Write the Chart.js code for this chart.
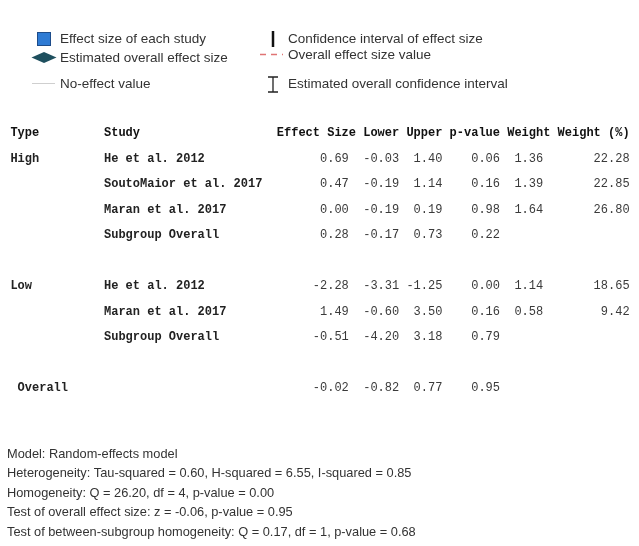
<!DOCTYPE html>
<html>
<head>
<meta charset="utf-8">
<script src="https://cdn.jsdelivr.net/npm/chart.js@4.4.1/dist/chart.umd.min.js"></script>
<style>
  html, body { margin: 0; padding: 0; background: #fff; }
  canvas { display: block; }
</style>
</head>
<body>
<canvas id="forest" width="639" height="546"></canvas>
<script>
// ---- Table contents ----
const headers    = ['Type', 'Study', 'Effect Size', 'Lower', 'Upper', 'p-value', 'Weight', 'Weight (%)'];
const types      = ['High', '', '', '', 'Low', '', '', ' Overall'];
const studies    = ['He et al. 2012', 'SoutoMaior et al. 2017', 'Maran et al. 2017', 'Subgroup Overall',
                    'He et al. 2012', 'Maran et al. 2017', 'Subgroup Overall', ''];
const effectSize = [0.69, 0.47, 0.00, 0.28, -2.28, 1.49, -0.51, -0.02];
const lower      = [-0.03, -0.19, -0.19, -0.17, -3.31, -0.60, -4.20, -0.82];
const upper      = [1.40, 1.14, 0.19, 0.73, -1.25, 3.50, 3.18, 0.77];
const pValue     = [0.06, 0.16, 0.98, 0.22, 0.00, 0.16, 0.79, 0.95];
const weight     = [1.36, 1.39, 1.64, null, 1.14, 0.58, null, null];
const weightPct  = [22.28, 22.85, 26.80, null, 18.65, 9.42, null, null];

const legendLeft  = ['Effect size of each study', 'Estimated overall effect size', 'No-effect value'];
const legendRight = ['Confidence interval of effect size', 'Overall effect size value', 'Estimated overall confidence interval'];

const modelNotes = [
  'Model: Random-effects model',
  'Heterogeneity: Tau-squared = 0.60, H-squared = 6.55, I-squared = 0.85',
  'Homogeneity: Q = 26.20, df = 4, p-value = 0.00',
  'Test of overall effect size: z = -0.06, p-value = 0.95',
  'Test of between-subgroup homogeneity: Q = 0.17, df = 1, p-value = 0.68'
];

// ---- Layout of the table grid ----
// x axis counts monospace character cells, y axis counts table rows.
const CHAR_PX = 7.2, GRID_LEFT_PX = 10.4;
const ROW_PX = 25.5, HEADER_ROW_PX = 133;
const W = 639, H = 546;
const rowSlots = [1, 2, 3, 4, 6, 7, 8, 10];          // table row of each entry (header is row 0)
const headerCols = [0, 13, 37, 49, 55, 61, 69, 76];  // left edge of each header label
const textCols = { type: 0, study: 13 };
const numCols = { es: 47, lo: 54, up: 60, p: 68, w: 74, wp: 86 };  // right edges of number columns

const monoBold = 'bold 12px "Liberation Mono", "DejaVu Sans Mono", monospace';
const monoReg  = '12px "Liberation Mono", "DejaVu Sans Mono", monospace';
const sansFont = '"Liberation Sans", Arial, sans-serif';

function textColumn(col, labels, font, color) {
  return {
    data: labels.map((t, i) => ({ x: col, y: rowSlots[i], text: t })).filter(p => p.text),
    font, textColor: color, align: 'left'
  };
}
function numberColumn(col, values) {
  return {
    data: values.map((v, i) => ({ x: col, y: rowSlots[i], text: v == null ? '' : v.toFixed(2) }))
                .filter(p => p.text),
    font: monoReg, textColor: '#3a3a3a', align: 'right'
  };
}

const datasets = [
  {
    data: headers.map((h, i) => ({ x: headerCols[i], y: 0, text: h })),
    font: monoBold, textColor: '#111', align: 'left'
  },
  textColumn(textCols.type, types, monoBold, '#222'),
  textColumn(textCols.study, studies, monoBold, '#222'),
  numberColumn(numCols.es, effectSize),
  numberColumn(numCols.lo, lower),
  numberColumn(numCols.up, upper),
  numberColumn(numCols.p, pValue),
  numberColumn(numCols.w, weight),
  numberColumn(numCols.wp, weightPct)
].map(d => Object.assign({ pointRadius: 0, pointHoverRadius: 0, showLine: false }, d));

// Writes each table cell at its point position.
const tableText = {
  id: 'tableText',
  afterDatasetsDraw(chart) {
    const ctx = chart.ctx;
    chart.data.datasets.forEach((ds, i) => {
      const meta = chart.getDatasetMeta(i);
      ctx.save();
      ctx.font = ds.font;
      ctx.fillStyle = ds.textColor;
      ctx.textAlign = ds.align;
      ctx.textBaseline = 'middle';
      meta.data.forEach((el, j) => ctx.fillText(ds.data[j].text, el.x, el.y));
      ctx.restore();
    });
  }
};

// Key of symbols at the top and the model summary at the bottom.
const keyAndNotes = {
  id: 'keyAndNotes',
  afterDraw(chart) {
    const ctx = chart.ctx;
    ctx.save();
    ctx.font = '13.5px ' + sansFont;
    ctx.fillStyle = '#333';
    ctx.textAlign = 'left';
    ctx.textBaseline = 'middle';
    const leftY = [39, 58, 84], rightY = [39, 55, 84];
    legendLeft.forEach((t, i) => ctx.fillText(t, 60, leftY[i]));
    legendRight.forEach((t, i) => ctx.fillText(t, 288, rightY[i]));

    // blue square
    ctx.fillStyle = '#2e7bd4';
    ctx.strokeStyle = '#1d4c8a';
    ctx.lineWidth = 1;
    ctx.fillRect(37.5, 32.5, 13, 13);
    ctx.strokeRect(37.5, 32.5, 13, 13);
    // diamond
    ctx.fillStyle = '#1e4f5e';
    ctx.beginPath();
    ctx.moveTo(31.5, 57.5); ctx.lineTo(44, 52); ctx.lineTo(56.5, 57.5); ctx.lineTo(44, 63);
    ctx.closePath(); ctx.fill();
    // grey no-effect line
    ctx.strokeStyle = '#cfcfcf';
    ctx.lineWidth = 1;
    ctx.beginPath(); ctx.moveTo(32, 83.5); ctx.lineTo(55, 83.5); ctx.stroke();
    // confidence interval bar
    ctx.strokeStyle = '#111';
    ctx.lineWidth = 2.5;
    ctx.beginPath(); ctx.moveTo(273, 31); ctx.lineTo(273, 47); ctx.stroke();
    // dashed red overall value
    ctx.strokeStyle = '#e07474';
    ctx.lineWidth = 1.3;
    ctx.setLineDash([6, 5]);
    ctx.beginPath(); ctx.moveTo(260, 54.5); ctx.lineTo(283, 54.5); ctx.stroke();
    ctx.setLineDash([]);
    // I-beam
    ctx.strokeStyle = '#222';
    ctx.lineWidth = 1.3;
    ctx.beginPath();
    ctx.moveTo(273, 77); ctx.lineTo(273, 92);
    ctx.moveTo(268, 77); ctx.lineTo(278, 77);
    ctx.moveTo(268, 92); ctx.lineTo(278, 92);
    ctx.stroke();

    // model summary
    ctx.font = '12.8px ' + sansFont;
    ctx.fillStyle = '#333';
    modelNotes.forEach((t, i) => ctx.fillText(t, 7, 454 + i * 19.5));
    ctx.restore();
  }
};

const xMin = -GRID_LEFT_PX / CHAR_PX;
const yMin = -HEADER_ROW_PX / ROW_PX;

new Chart(document.getElementById('forest'), {
  type: 'scatter',
  data: { datasets },
  options: {
    responsive: false,
    animation: false,
    devicePixelRatio: 1,
    layout: { padding: 0 },
    events: [],
    plugins: { legend: { display: false }, tooltip: { enabled: false }, title: { display: false } },
    scales: {
      x: { type: 'linear', display: false, min: xMin, max: xMin + W / CHAR_PX },
      y: { type: 'linear', display: false, reverse: true, min: yMin, max: yMin + H / ROW_PX }
    }
  },
  plugins: [tableText, keyAndNotes]
});
</script>
</body>
</html>
